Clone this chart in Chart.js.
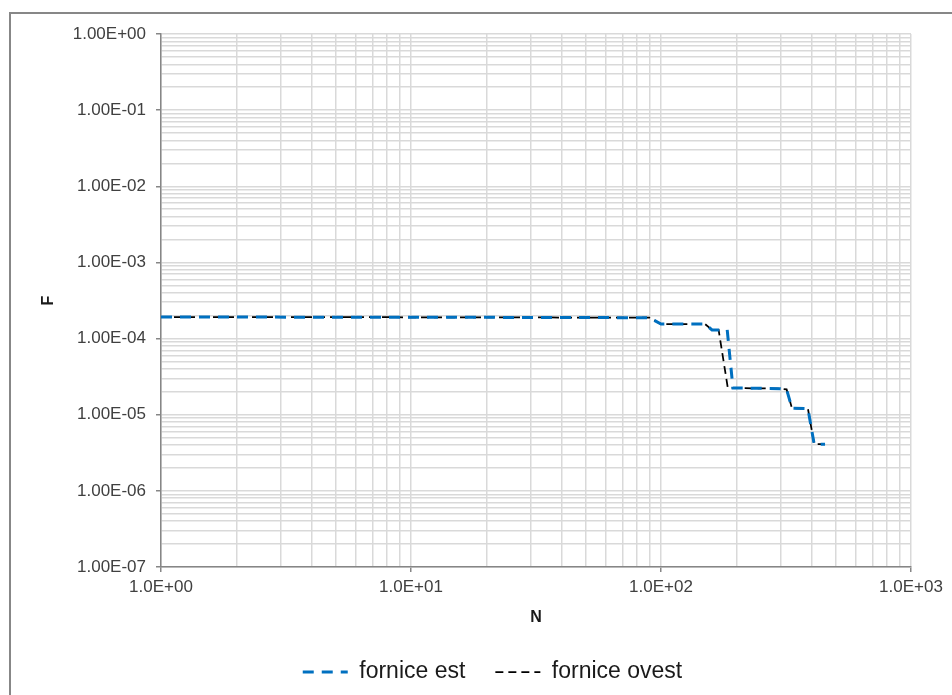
<!DOCTYPE html>
<html>
<head>
<meta charset="utf-8">
<script src="https://cdn.jsdelivr.net/npm/chart.js@4"></script>
<style>
  html, body { margin: 0; padding: 0; background: #fff; overflow: hidden; }
  canvas { display: block; }
</style>
</head>
<body>
<canvas id="fnChart" width="952" height="695"></canvas>
<script>
// F-N curves
const estN = [1, 20, 90, 100, 150, 160, 184, 194, 300, 318, 334, 387, 410, 453];
const estF = [1.92e-4, 1.9e-4, 1.88e-4, 1.55e-4, 1.55e-4, 1.3e-4, 1.3e-4, 2.25e-5, 2.2e-5, 2.15e-5, 1.22e-5, 1.2e-5, 4.1e-6, 4.1e-6];
const ovestN = [1, 20, 90, 100, 150, 160, 170, 185, 300, 318, 334, 387, 410, 453];
const ovestF = [1.92e-4, 1.9e-4, 1.88e-4, 1.55e-4, 1.55e-4, 1.3e-4, 1.3e-4, 2.25e-5, 2.2e-5, 2.15e-5, 1.22e-5, 1.2e-5, 4.1e-6, 4.1e-6];

const seriesNames = ["fornice est", "fornice ovest"];

// axes
const xMajor = [1, 10, 100, 1000];
const xTickLabels = ["1.0E+00", "1.0E+01", "1.0E+02", "1.0E+03"];
const yMajor = [1e-7, 1e-6, 1e-5, 1e-4, 1e-3, 1e-2, 1e-1, 1];
const yTickLabels = ["1.00E-07", "1.00E-06", "1.00E-05", "1.00E-04", "1.00E-03", "1.00E-02", "1.00E-01", "1.00E+00"];

const toPoints = (xs, ys) => xs.map((x, i) => ({ x: x, y: ys[i] }));

// every 1..9 step inside each decade, so minor grid lines show up
function logTicks(majors) {
    const ticks = [];
    majors.forEach((m, i) => {
        ticks.push({ value: m, major: true });
        if (i < majors.length - 1) {
            for (let k = 2; k <= 9; k++) ticks.push({ value: m * k, major: false });
        }
    });
    return ticks;
}

function majorLabel(value, majors, labels) {
    for (let i = 0; i < majors.length; i++) {
        if (Math.abs(Math.log10(value) - Math.log10(majors[i])) < 1e-6) return labels[i];
    }
    return "";
}

const gridColor = "#d9d9d9";
const axisColor = "#868686";
const textColor = "#404040";

const framePlugin = {
    id: "frame",
    beforeDraw(chart) {
        const c = chart.ctx;
        c.save();
        c.fillStyle = "#fff";
        c.fillRect(0, 0, chart.width, chart.height);
        c.strokeStyle = "#878787";
        c.lineWidth = 2;
        c.strokeRect(10, 13, 960, 700);
        c.restore();
    }
};

// nudge legend to the right like the original
const legendShift = {
    id: "legendShift",
    afterLayout(chart) {
        chart.legend.left += 32;
        chart.legend.right += 32;
    }
};

const ctx = document.getElementById("fnChart").getContext("2d");
new Chart(ctx, {
    type: "scatter",
    data: {
        datasets: [
            {
                label: seriesNames[0],
                data: toPoints(estN, estF),
                showLine: true,
                borderColor: "#0070c0",
                backgroundColor: "#0070c0",
                borderWidth: 3,
                borderDash: [11, 8],
                pointRadius: 0,
                pointStyle: "line"
            },
            {
                label: seriesNames[1],
                data: toPoints(ovestN, ovestF),
                showLine: true,
                borderColor: "#000",
                backgroundColor: "#000",
                borderWidth: 1.75,
                borderDash: [8, 5],
                pointRadius: 0,
                pointStyle: "line"
            }
        ]
    },
    options: {
        responsive: false,
        animation: false,
        devicePixelRatio: 1,
        layout: { padding: { left: 10, top: 34, right: 41, bottom: 1.5 } },
        plugins: {
            tooltip: { enabled: false },
            legend: {
                position: "bottom",
                labels: {
                    usePointStyle: true,
                    pointStyleWidth: 45,
                    padding: 30,
                    color: "#1a1a1a",
                    font: { family: "'Liberation Sans', Arial, sans-serif", size: 23 },
                    // point-style items lose the dash, put it back from the dataset
                    generateLabels: chart => {
                        const items = Chart.defaults.plugins.legend.labels.generateLabels(chart);
                        items.forEach((it, i) => {
                            const ds = chart.data.datasets[i];
                            it.pointStyle = "line";
                            it.strokeStyle = ds.borderColor;
                            it.lineWidth = ds.borderWidth;
                            it.lineDash = ds.borderDash;
                            it.lineDashOffset = 0;
                        });
                        return items;
                    }
                }
            }
        },
        scales: {
            x: {
                type: "logarithmic",
                min: 1,
                max: 1000,
                afterBuildTicks: s => { s.ticks = logTicks(xMajor); },
                afterFit: s => { s.height = 63.5; },
                ticks: {
                    autoSkip: false,
                    maxRotation: 0,
                    minRotation: 0,
                    padding: 5,
                    color: textColor,
                    font: { family: "'Liberation Sans', Arial, sans-serif", size: 17 },
                    callback: v => majorLabel(v, xMajor, xTickLabels)
                },
                grid: {
                    color: gridColor,
                    lineWidth: 1.5,
                    tickLength: 5,
                    tickWidth: 1.5,
                    tickColor: c => (c.tick && c.tick.major ? axisColor : "rgba(0,0,0,0)")
                },
                border: { color: axisColor, width: 1.5 },
                title: {
                    display: true,
                    text: "N",
                    color: "#1a1a1a",
                    padding: { top: 0, bottom: 3 },
                    font: { family: "'Liberation Sans', Arial, sans-serif", size: 16, weight: "bold" }
                }
            },
            y: {
                type: "logarithmic",
                min: 1e-7,
                max: 1,
                afterBuildTicks: s => { s.ticks = logTicks(yMajor); },
                afterFit: s => { s.width = 151; },
                ticks: {
                    autoSkip: false,
                    padding: 10,
                    color: textColor,
                    font: { family: "'Liberation Sans', Arial, sans-serif", size: 17 },
                    callback: v => majorLabel(v, yMajor, yTickLabels)
                },
                grid: {
                    color: gridColor,
                    lineWidth: 1.5,
                    tickLength: 5,
                    tickWidth: 1.5,
                    tickColor: c => (c.tick && c.tick.major ? axisColor : "rgba(0,0,0,0)")
                },
                border: { color: axisColor, width: 1.5 },
                title: {
                    display: true,
                    text: "F",
                    color: "#1a1a1a",
                    padding: { top: 29, bottom: 0 },
                    font: { family: "'Liberation Sans', Arial, sans-serif", size: 16, weight: "bold" }
                }
            }
        }
    },
    plugins: [framePlugin, legendShift]
});
</script>
</body>
</html>
